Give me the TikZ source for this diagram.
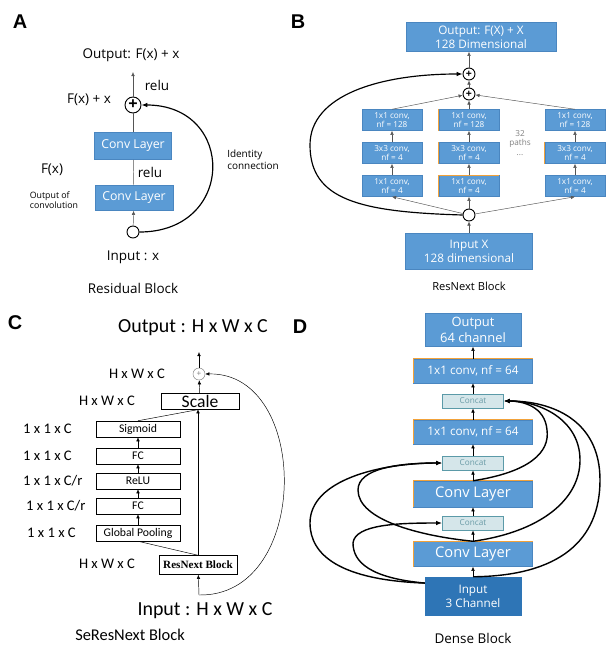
\documentclass[tikz,border=0pt]{standalone}
\usepackage{fontspec}
\setmainfont{Open Sans}
\newfontfamily\panelfont{Liberation Sans}
\newfontfamily\cfont{Carlito}
\newfontfamily\blockfont{Liberation Serif}
\usetikzlibrary{arrows.meta}
\newcommand{\fsz}[1]{\fontsize{#1}{\fpeval{1.2*#1}}\selectfont}
\definecolor{netblue}{HTML}{5B9BD5}
\definecolor{netedge}{HTML}{4A86C0}
\definecolor{netdark}{HTML}{2E75B6}
\definecolor{catfill}{HTML}{D5E6EA}
\definecolor{catedge}{HTML}{5B9AA8}
\definecolor{cattext}{HTML}{6A9BA6}
\definecolor{netorange}{HTML}{F2A23A}
\definecolor{netgray}{HTML}{555555}

\begin{document}
\begin{tikzpicture}[x=.3mm,y=-.3mm,>={Latex[length=3.5pt,width=3pt]},
panel/.style={font=\panelfont\bfseries\fsz{17}},
blk/.style={draw=netedge,fill=netblue,text=white,align=center,inner sep=1pt},
pbox/.style={blk,minimum width=18mm,minimum height=6.3mm,font=\fontsize{7}{8}\selectfont},
dbox/.style={blk,minimum width=35.7mm,minimum height=7.2mm},
wbox/.style={draw=black,fill=white,align=center,inner sep=1pt,minimum width=25.2mm,minimum height=4.8mm,font=\cfont\fsz{10}},
catbox/.style={draw=catedge,fill=catfill,text=cattext,line width=.8pt,minimum width=18.3mm,minimum height=4.2mm,inner sep=0pt,font=\fsz{7}},
sumA/.style={circle,draw,thick,inner sep=0pt,minimum size=4.8mm,font=\bfseries\fsz{14}},
sumB/.style={circle,draw,thick,fill=white,inner sep=0pt,minimum size=3.6mm,font=\bfseries\fsz{9}},
dot/.style={circle,draw,thick,fill=white,inner sep=0pt,minimum size=3.6mm},
lab/.style={font=\fsz{11.5}},
dimC/.style={font=\cfont\fsz{12.5}},
link/.style={->,draw=netgray},
skip/.style={->,line width=1pt,>={Latex[length=5pt,width=4pt]}},
dense/.style={skip,line width=1.2pt},
accent/.style={draw=netorange,line width=.8pt}]
\useasboundingbox (0,0) rectangle (606,646);

% A: residual block
\node[panel] (pA) at (20,22) {A};
\node[lab] (outA) at (131,55) {Output: F(x) + x};
\coordinate (topA) at (133,72);
\node[sumA] (addA) at (133,105) {+};
\node[lab] (reluA) at (157,85) {relu};
\node[lab] (fxxA) at (89,100) {F(x) + x};
\node[blk,minimum width=23mm,minimum height=8.2mm,font=\fsz{10.5}] (conv2A) at (133,146) {Conv Layer};
\node[blk,minimum width=23.4mm,minimum height=7.5mm,font=\fsz{10.5}] (conv1A) at (134,198) {Conv Layer};
\node[lab] (fxA) at (52,170) {F(x)};
\node[lab] (relu2A) at (150,172) {relu};
\node[font=\fsz{7.5},align=left] (ocA) at (54,200) {Output of\\convolution};
\node[dot] (inA) at (133,232) {};
\node[lab] (inlA) at (133,257) {Input : x};
\node[lab] (capA) at (133,288) {Residual Block};
\node[font=\fsz{8.5},align=left] (idA) at (253,160) {Identity\\connection};
\draw[link] (inA) -- (conv1A);
\draw[draw=netgray] (conv1A) -- (conv2A);
\draw[draw=netgray] (conv2A) -- (addA);
\draw[link] (addA) -- (topA);
\draw[skip] (inA.east) .. controls (236,232) and (236,105) .. (addA.east);

% B: resnext block
\node[panel] (pB) at (298,22) {B};
\node[blk,minimum width=45mm,minimum height=8.7mm,font=\fsz{10}] (outB) at (481,37) {Output: F(X) + X\\128 Dimensional};
\node[sumB] (add2B) at (469,74) {+};
\node[sumB] (add1B) at (469,94) {+};
\node[pbox] (l3) at (392,120) {1x1 conv,\\nf = 128};
\node[pbox] (l2) at (392,153) {3x3 conv,\\nf = 4};
\node[pbox] (l1) at (392,186) {1x1 conv,\\nf = 4};
\node[pbox] (m3) at (469,120) {1x1 conv,\\nf = 128};
\node[pbox] (m2) at (469,153) {3x3 conv,\\nf = 4};
\node[pbox] (m1) at (469,186) {1x1 conv,\\nf = 4};
\node[pbox] (r3) at (575,120) {1x1 conv,\\nf = 128};
\node[pbox] (r2) at (575,153) {3x3 conv,\\nf = 4};
\node[pbox] (r1) at (575,186) {1x1 conv,\\nf = 4};
\draw[accent] (m1.south west) -- (m1.north west) -- (m1.north east);
\draw[accent] (m2.south west) -- (m2.north west);
\draw[accent] (m3.south west) -- (m3.north west);
\draw[accent] (r2.south west) -- (r2.north west);
\node[font=\fontsize{7}{8}\selectfont,text=gray,align=center] (pathsB) at (520,143) {32\\paths\\...};
\node[dot] (splitB) at (469,215) {};
\node[blk,minimum width=38mm,minimum height=10.8mm,font=\fsz{10}] (inB) at (469,251) {Input X\\128 dimensional};
\node[font=\fsz{9.5}] (capB) at (469,286) {ResNext Block};
\draw[link] (inB) -- (splitB);
\draw[link] (splitB) -- (l1.south);
\draw[link] (splitB) -- (m1);
\draw[link] (splitB) -- (r1.south);
\draw[link] (l1) -- (l2);
\draw[link] (l2) -- (l3);
\draw[link] (m1) -- (m2);
\draw[link] (m2) -- (m3);
\draw[link] (r1) -- (r2);
\draw[link] (r2) -- (r3);
\draw[link] (l3.north) -- (add1B);
\draw[link] (m3) -- (add1B);
\draw[link] (r3.north) -- (add1B);
\draw[link] (add1B) -- (add2B);
\draw[link] (add2B) -- (add2B.north |- outB.south);
\draw[skip] (splitB.west) .. controls (360,212) and (310,200) .. (310,145)
  .. controls (310,95) and (380,74) .. (add2B.west);

% C: seresnext block
\node[panel] (pC) at (15,323) {C};
\node[font=\cfont\fsz{17}] (outC) at (193,328) {Output : H x W x C};
\coordinate (topC) at (199,352);
\node[circle,draw=gray,fill=white,inner sep=0pt,minimum size=3.6mm,text=gray,font=\fsz{7}] (addC) at (199,374) {+};
\node[wbox,minimum width=23.4mm,font=\cfont\fsz{15}] (scaleC) at (200,401) {Scale};
\node[wbox] (sigC) at (138,429) {Sigmoid};
\node[wbox] (fc2C) at (138,456) {FC};
\node[wbox] (reluC) at (138,481) {ReLU};
\node[wbox] (fc1C) at (138,506) {FC};
\node[wbox] (gpC) at (138,533) {Global Pooling};
\node[wbox,minimum width=23.4mm,minimum height=5.7mm,font=\blockfont\bfseries\fsz{9.5}] (rnC) at (198,565) {ResNext Block};
\coordinate (inC) at (199,595);
\node[dimC] (d1C) at (137,374) {H x W x C};
\node[dimC] (d2C) at (107,401) {H x W x C};
\node[dimC,anchor=west] (d3C) at (19,429) {1 x 1 x C};
\node[dimC,anchor=west] (d4C) at (19,456) {1 x 1 x C};
\node[dimC,anchor=west] (d5C) at (19,481) {1 x 1 x C/r};
\node[dimC,anchor=west] (d6C) at (22,506) {1 x 1 x C/r};
\node[dimC,anchor=west] (d7C) at (23,533) {1 x 1 x C};
\node[dimC] (d8C) at (107,564) {H x W x C};
\node[font=\cfont\fsz{17}] (inlC) at (205,611) {Input : H x W x C};
\node[font=\cfont\fsz{14}] (capC) at (130,635) {SeResNext Block};
\draw[->] (inC) -- (rnC);
\draw[->] (rnC) -- (scaleC.south -| rnC.north);
\draw[->] (scaleC) -- (addC);
\draw[->] (addC) -- (topC);
\draw[->] (gpC) -- (fc1C);
\draw[->] (fc1C) -- (reluC);
\draw[->] (reluC) -- (fc2C);
\draw[->] (fc2C) -- (sigC);
\draw (rnC.north) -- (gpC.south);
\draw (sigC.north) -- (scaleC.south);
\draw[->] (inC) .. controls (311,597) and (311,372) .. (addC.east);

% D: dense block
\node[panel] (pD) at (300,327) {D};
\node[blk,minimum width=28.8mm,minimum height=9.9mm,font=\fsz{11}] (outD) at (473,330) {Output\\64 channel};
\node[dbox,font=\fsz{10}] (conv4D) at (473,371) {1x1 conv, nf = 64};
\node[catbox] (cat1D) at (473,401) {Concat};
\node[dbox,font=\fsz{10}] (conv3D) at (473,432) {1x1 conv, nf = 64};
\node[catbox] (cat2D) at (473,463) {Concat};
\node[dbox,minimum height=7.8mm,font=\fsz{12.5}] (conv2D) at (473,494) {Conv Layer};
\node[catbox] (cat3D) at (473,523) {Concat};
\node[dbox,minimum height=7.5mm,font=\fsz{12.5}] (conv1D) at (473,554) {Conv Layer};
\node[blk,draw=netdark,fill=netdark,minimum width=28.8mm,minimum height=11.4mm,font=\fsz{10}] (inD) at (473,596) {Input\\3 Channel};
\node[font=\fsz{11.5}] (capD) at (473,638) {Dense Block};
\draw[accent] (conv4D.south west) -- (conv4D.north west) -- (conv4D.north east);
\draw[accent] (conv3D.south west) -- (conv3D.north west) -- (conv3D.north east);
\draw[accent] (conv2D.south west) -- (conv2D.north west) -- (conv2D.north east);
\draw[accent] (conv1D.south west) -- (conv1D.north west) -- (conv1D.north east);
\draw[->] (inD) -- (conv1D);
\draw[->] (conv1D) -- (cat3D);
\draw[->] (cat3D) -- (conv2D);
\draw[->] (conv2D) -- (cat2D);
\draw[->] (cat2D) -- (conv3D);
\draw[->] (conv3D) -- (cat1D);
\draw[->] (cat1D) -- (conv4D);
\draw[->] (conv4D) -- (outD);
\draw[dense] (inD.165) .. controls (340,580) and (310,555) .. (310,523)
  .. controls (310,480) and (380,463) .. (cat2D.west);
\draw[dense] (inD.165) .. controls (370,578) and (353,562) .. (353,543)
  .. controls (355,524) and (400,523) .. (cat3D.west);
\draw[dense] (conv1D.north) .. controls (420,536) and (358,520) .. (358,490)
  .. controls (358,468) and (400,463) .. (cat2D.west);
\draw[dense] (conv2D.north) .. controls (530,472) and (550,452) .. (547,430)
  .. controls (545,406) and (522,401) .. (cat1D.east);
\draw[dense] (conv1D.north) .. controls (540,532) and (580,500) .. (580,460)
  .. controls (580,420) and (540,401) .. (cat1D.east);
\draw[dense] (inD.north) .. controls (560,576) and (600,540) .. (600,480)
  .. controls (600,420) and (552,401) .. (cat1D.east);
\end{tikzpicture}
\end{document}
